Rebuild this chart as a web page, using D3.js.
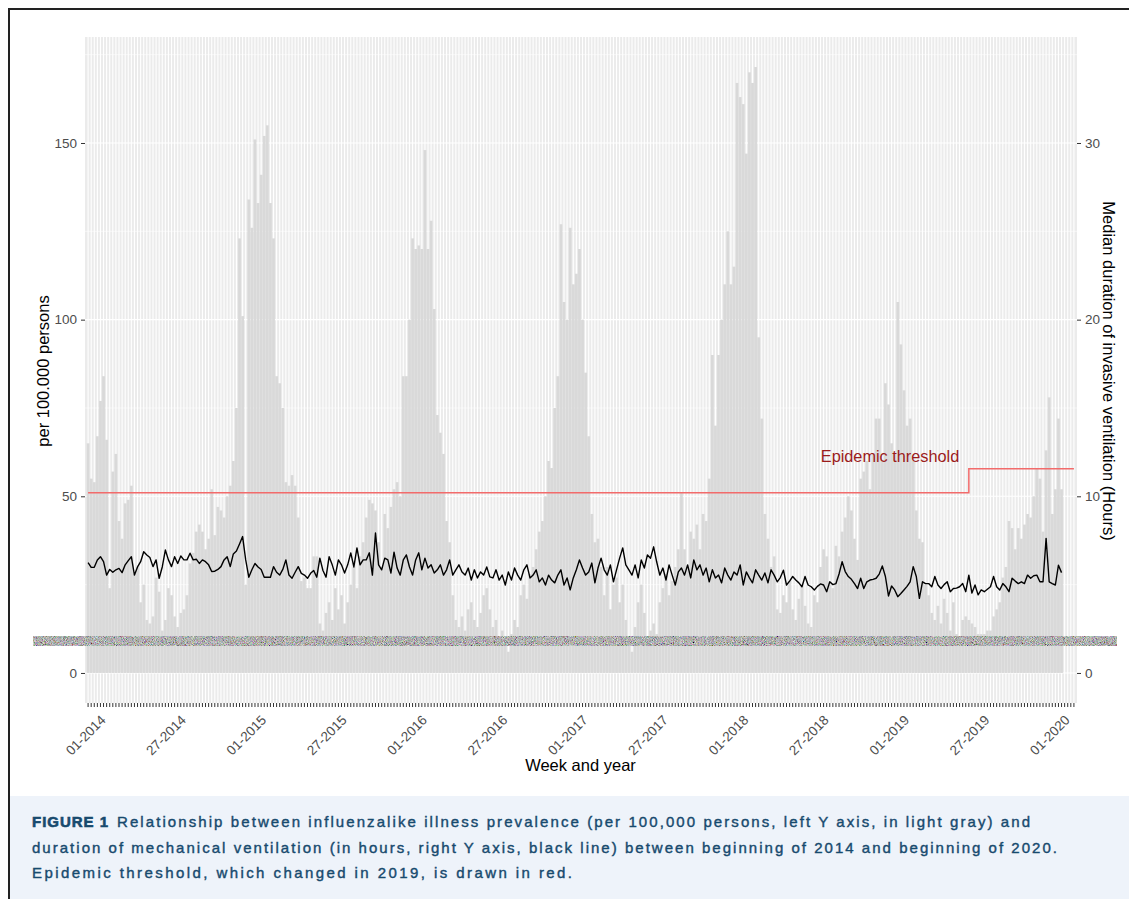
<!DOCTYPE html>
<html>
<head>
<meta charset="utf-8">
<script src="https://cdn.jsdelivr.net/npm/d3@7"></script>
<style>
  body { margin: 0; background: #fff; }
  svg { display: block; font-family: "Liberation Sans", Arial, Helvetica, sans-serif; }
</style>
</head>
<body>
<svg id="chart" width="1129" height="899"></svg>
<script>
// influenza-like illness, per 100.000 persons, one value per week
const iliRate = [
  65, 55, 54, 67, 77, 84, 66, 24, 57, 62,
  43, 38, 48, 49, 53, 28, 30, 20, 25, 15,
  14, 16, 27, 23, 12, 15, 24, 22, 16, 13,
  17, 18, 22, 31, 34, 40, 42, 40, 35, 38,
  52, 39, 47, 46, 44, 50, 53, 60, 75, 123,
  101, 25, 134, 126, 151, 133, 141, 152, 155, 133,
  123, 84, 82, 75, 54, 53, 56, 53, 44, 26,
  27, 24, 24, 33, 33, 14, 12, 17, 20, 15,
  24, 18, 22, 14, 20, 25, 30, 24, 33, 37,
  44, 49, 48, 46, 37, 30, 45, 41, 47, 52,
  54, 50, 84, 84, 100, 123, 120, 121, 120, 148,
  120, 128, 103, 73, 68, 62, 43, 37, 22, 15,
  13, 16, 12, 18, 20, 15, 13, 17, 22, 24,
  18, 13, 15, 10, 12, 8, 6, 11, 15, 13,
  22, 25, 21, 28, 30, 35, 40, 43, 50, 60,
  58, 75, 84, 127, 105, 100, 126, 110, 113, 120,
  100, 85, 67, 45, 37, 38, 30, 22, 30, 18,
  25, 27, 20, 25, 15, 10, 6, 13, 20, 25,
  17, 10, 12, 14, 11, 20, 24, 28, 22, 26,
  30, 35, 51, 35, 30, 40, 38, 42, 35, 45,
  43, 55, 90, 70, 90, 100, 110, 125, 110, 115,
  167, 163, 161, 147, 170, 167, 171.5, 95, 72, 45,
  38, 30, 33, 18, 17, 22, 20, 26, 18, 15,
  21, 25, 19, 14, 13, 22, 20, 30, 35, 33,
  25, 24, 36, 33, 40, 44, 50, 46, 38, 32,
  55, 57, 60, 52, 62, 72, 72, 60, 82, 76,
  65, 62, 105, 93, 80, 70, 72, 60, 46, 38,
  37, 25, 22, 17, 15, 19, 14, 21, 17, 12,
  20, 11, 10, 15, 16, 15, 14, 13, 11, 11,
  11, 12, 12, 16, 18, 20, 27, 30, 43, 41,
  35, 41, 38, 42, 45, 44, 50, 58, 55, 40,
  63, 78, 45, 52, 72, 52
];

// median duration of invasive ventilation, hours
const ventHours = [
  6.24, 5.98, 5.98, 6.4, 6.58, 6.3, 5.54, 5.86, 5.7, 5.84,
  5.92, 5.68, 6.12, 6.36, 6.58, 5.54, 6.0, 6.3, 6.86, 6.68,
  6.54, 6.02, 6.4, 5.36, 6.0, 6.96, 6.4, 6.02, 6.58, 6.2,
  6.62, 6.4, 6.4, 6.78, 6.4, 6.44, 6.2, 6.4, 6.3, 6.12,
  5.74, 5.76, 5.86, 6.02, 6.4, 6.58, 6.02, 6.74, 6.9, 7.3,
  7.72, 6.4, 5.42, 5.84, 6.2, 6.0, 5.86, 5.42, 5.42, 5.42,
  6.02, 5.7, 5.54, 5.86, 6.4, 5.54, 5.36, 5.7, 6.02, 5.64,
  5.54, 5.36, 5.64, 5.8, 5.42, 6.5, 5.8, 5.42, 6.58, 6.12,
  5.54, 6.4, 6.12, 5.66, 6.12, 6.8, 6.0, 7.08, 6.12, 6.4,
  6.4, 6.8, 5.54, 7.92, 6.12, 5.84, 6.5, 6.4, 5.66, 6.84,
  5.94, 5.54, 6.4, 6.68, 6.0, 5.54, 6.4, 6.8, 5.84, 6.5,
  5.94, 6.12, 5.66, 5.84, 6.12, 5.54, 5.84, 6.4, 5.54, 5.84,
  6.12, 5.72, 5.54, 5.94, 5.26, 5.84, 5.38, 5.72, 5.54, 6.0,
  5.44, 5.38, 5.84, 5.26, 5.54, 4.98, 5.72, 5.26, 5.94, 5.54,
  5.26, 5.84, 6.12, 5.38, 5.54, 5.84, 5.16, 5.38, 4.98, 5.54,
  5.26, 5.1, 5.54, 5.84, 4.98, 5.38, 4.7, 5.38, 5.84, 6.4,
  5.94, 5.54, 5.72, 6.22, 5.1, 5.94, 6.5, 5.84, 5.54, 6.12,
  5.16, 5.84, 6.5, 7.08, 6.12, 5.84, 5.54, 6.12, 5.38, 6.4,
  5.94, 6.68, 6.5, 7.14, 6.28, 5.54, 5.94, 5.26, 6.12, 5.54,
  4.98, 5.72, 5.94, 5.54, 6.12, 5.38, 6.4, 5.84, 6.12, 5.54,
  5.94, 5.16, 5.84, 5.38, 5.54, 5.1, 5.94, 5.54, 5.26, 5.72,
  5.54, 6.12, 4.98, 5.72, 5.38, 5.1, 5.84, 5.54, 5.26, 5.66,
  5.1, 5.84, 5.54, 5.16, 5.4, 5.82, 4.98, 5.2, 5.46, 5.26,
  5.1, 4.88, 5.46, 4.98, 4.88, 4.7, 4.9, 5.04, 4.98, 4.6,
  5.16, 5.0, 5.06, 5.6, 6.3, 5.74, 5.46, 5.3, 5.06, 4.78,
  5.36, 4.78, 5.16, 5.26, 5.3, 5.36, 5.6, 6.06, 5.46, 4.36,
  4.92, 4.7, 4.32, 4.5, 4.7, 4.9, 5.16, 6.02, 5.46, 4.22,
  5.16, 5.06, 5.06, 4.88, 5.46, 4.98, 4.78, 5.0, 5.16, 4.6,
  4.78, 4.8, 4.88, 5.06, 4.6, 5.54, 4.52, 4.98, 4.42, 4.7,
  4.6, 4.74, 4.88, 5.46, 4.88, 4.7, 5.06, 4.88, 4.6, 5.36,
  5.2, 5.06, 5.16, 5.06, 5.54, 5.36, 5.5, 5.54, 5.16, 5.16,
  7.62, 5.16, 5.06, 4.98, 6.1, 5.68
];

// x axis: weekly categories, labelled every 26 weeks
const nWeeks = 320;
const tickWeeks = [4, 30, 56, 82, 108, 134, 160, 186, 212, 238, 264, 290, 316];
const tickLabels = ["01-2014", "27-2014", "01-2015", "27-2015", "01-2016", "27-2016",
  "01-2017", "27-2017", "01-2018", "27-2018", "01-2019", "27-2019", "01-2020"];

// epidemic threshold (step, changed in 2019)
const thresholdWeeks = [0, 285, 319];
const thresholdLevels = [51, 57.8, 57.8];

const leftTicks = [0, 50, 100, 150];
const leftMinor = [25, 75, 125, 175];
const rightTicks = [0, 10, 20, 30];

const captionLines = [
  "Relationship between influenzalike illness prevalence (per 100,000 persons, left Y axis, in light gray) and",
  "duration of mechanical ventilation (in hours, right Y axis, black line) between beginning of 2014 and beginning of 2020.",
  "Epidemic threshold, which changed in 2019, is drawn in red."
];

const panel = { left: 85, right: 1077, top: 37, bottom: 703 };
const svg = d3.select("#chart");

const weekIndex = d3.range(nWeeks);

const x = d3.scaleBand()
  .domain(weekIndex)
  .range([panel.left, panel.right])
  .paddingInner(0.1)
  .paddingOuter(0.55);

const yLeft = d3.scaleLinear().domain([-8.5, 180]).range([panel.bottom, panel.top]);
const yRight = d3.scaleLinear().domain([-8.5 / 5, 180 / 5]).range([panel.bottom, panel.top]);

const cx = (i) => x(i) + x.bandwidth() / 2;

// noise filter for the scrambled strip across the plot
const defs = svg.append("defs");
const f = defs.append("filter").attr("id", "noise")
  .attr("x", 0).attr("y", 0).attr("width", 1).attr("height", 1);
f.append("feTurbulence").attr("type", "fractalNoise")
  .attr("baseFrequency", 1.1).attr("numOctaves", 2).attr("seed", 7);
f.append("feColorMatrix").attr("type", "matrix")
  .attr("values", "1.1 0.3 0.3 0 -0.42  0.3 1.1 0.3 0 -0.42  0.3 0.3 1.1 0 -0.42  0 0 0 0 1");

// figure frame + caption box
svg.append("rect").attr("x", 10).attr("y", 796).attr("width", 1119).attr("height", 103)
  .attr("fill", "#eef3fa");
svg.append("path").attr("d", "M9,899V9H1129")
  .attr("fill", "none").attr("stroke", "#222").attr("stroke-width", 2);

// panel
svg.append("rect")
  .attr("x", panel.left).attr("y", panel.top)
  .attr("width", panel.right - panel.left).attr("height", panel.bottom - panel.top)
  .attr("fill", "#ebebeb");

svg.append("g").selectAll("line").data(leftMinor).join("line")
  .attr("x1", panel.left).attr("x2", panel.right)
  .attr("y1", d => yLeft(d)).attr("y2", d => yLeft(d))
  .attr("stroke", "#fff").attr("stroke-width", 0.55);

svg.append("g").selectAll("line").data(leftTicks).join("line")
  .attr("x1", panel.left).attr("x2", panel.right)
  .attr("y1", d => yLeft(d)).attr("y2", d => yLeft(d))
  .attr("stroke", "#fff").attr("stroke-width", 1.1);

svg.append("g").selectAll("line").data(weekIndex).join("line")
  .attr("x1", d => cx(d)).attr("x2", d => cx(d))
  .attr("y1", panel.top).attr("y2", panel.bottom)
  .attr("stroke", "#fff").attr("stroke-width", 1.1);

// bars
svg.append("g").selectAll("rect").data(iliRate).join("rect")
  .attr("x", (d, i) => x(i))
  .attr("width", x.bandwidth())
  .attr("y", d => yLeft(d))
  .attr("height", d => yLeft(0) - yLeft(d))
  .attr("fill", "#d9d9d9");

// epidemic threshold
const thr = thresholdWeeks.map((w, i) => [w, thresholdLevels[i]]);
svg.append("path").datum(thr)
  .attr("fill", "none").attr("stroke", "#f26b6b").attr("stroke-width", 1.5)
  .attr("d", d3.line().curve(d3.curveStepAfter).x(d => cx(d[0])).y(d => yLeft(d[1])));

svg.append("text")
  .attr("x", 890).attr("y", 462).attr("text-anchor", "middle")
  .attr("font-size", 16.3).attr("fill", "#9b1b1b")
  .text("Epidemic threshold");

// ventilation line
svg.append("path").datum(ventHours)
  .attr("fill", "none").attr("stroke", "#000").attr("stroke-width", 1.4)
  .attr("stroke-linejoin", "round")
  .attr("d", d3.line().x((d, i) => cx(i)).y(d => yRight(d)));

// scrambled strip
svg.append("rect").attr("x", 33).attr("y", 636).attr("width", 1084).attr("height", 10)
  .attr("fill", "#808080").attr("filter", "url(#noise)");

// axes
const styleAxis = (g) => {
  g.select(".domain").remove();
  g.selectAll(".tick line").attr("stroke", "#333").attr("stroke-width", 1);
  g.selectAll(".tick text").attr("fill", "#4d4d4d").attr("font-size", 13.5)
    .attr("font-family", "Liberation Sans, Arial, sans-serif");
};

svg.append("g").attr("transform", `translate(${panel.left},0)`)
  .call(d3.axisLeft(yLeft).tickValues(leftTicks).tickSize(4).tickPadding(4))
  .call(styleAxis);

svg.append("g").attr("transform", `translate(${panel.right},0)`)
  .call(d3.axisRight(yRight).tickValues(rightTicks).tickSize(4).tickPadding(4))
  .call(styleAxis);

svg.append("g").attr("transform", `translate(0,${panel.bottom})`)
  .call(d3.axisBottom(x).tickValues(weekIndex).tickSize(4).tickFormat(""))
  .call(styleAxis);

svg.append("g").selectAll("text").data(tickWeeks).join("text")
  .attr("transform", (d) => `translate(${cx(d) + 6},${721}) rotate(-45)`)
  .attr("text-anchor", "end")
  .attr("font-size", 13.5).attr("fill", "#4d4d4d")
  .text((d, i) => tickLabels[i]);

// axis titles
svg.append("text")
  .attr("x", 580.5).attr("y", 771).attr("text-anchor", "middle")
  .attr("font-size", 16.5).attr("fill", "#000")
  .text("Week and year");

svg.append("text")
  .attr("transform", "translate(48.5,371) rotate(-90)")
  .attr("text-anchor", "middle").attr("font-size", 16.5).attr("fill", "#000")
  .text("per 100.000 persons");

svg.append("text")
  .attr("transform", "translate(1103,371) rotate(90)")
  .attr("text-anchor", "middle").attr("font-size", 16.5).attr("fill", "#000")
  .text("Median duration of invasive ventilation (Hours)");

// caption
const cap = svg.append("g").attr("fill", "#174a6e").attr("font-size", 15);
const line1 = cap.append("text").attr("y", 827);
line1.append("tspan").attr("x", 32).attr("font-weight", 700)
  .attr("stroke", "#174a6e").attr("stroke-width", 0.6)
  .attr("textLength", 76).attr("lengthAdjust", "spacing")
  .text("FIGURE 1");
line1.append("tspan").attr("x", 117)
  .attr("stroke", "#174a6e").attr("stroke-width", 0.4)
  .attr("textLength", 913).attr("lengthAdjust", "spacing")
  .text(captionLines[0]);
cap.append("text").attr("x", 32).attr("y", 853)
  .attr("stroke", "#174a6e").attr("stroke-width", 0.4)
  .attr("textLength", 1025).attr("lengthAdjust", "spacing")
  .text(captionLines[1]);
cap.append("text").attr("x", 32).attr("y", 878)
  .attr("stroke", "#174a6e").attr("stroke-width", 0.4)
  .attr("textLength", 540).attr("lengthAdjust", "spacing")
  .text(captionLines[2]);
</script>
</body>
</html>
